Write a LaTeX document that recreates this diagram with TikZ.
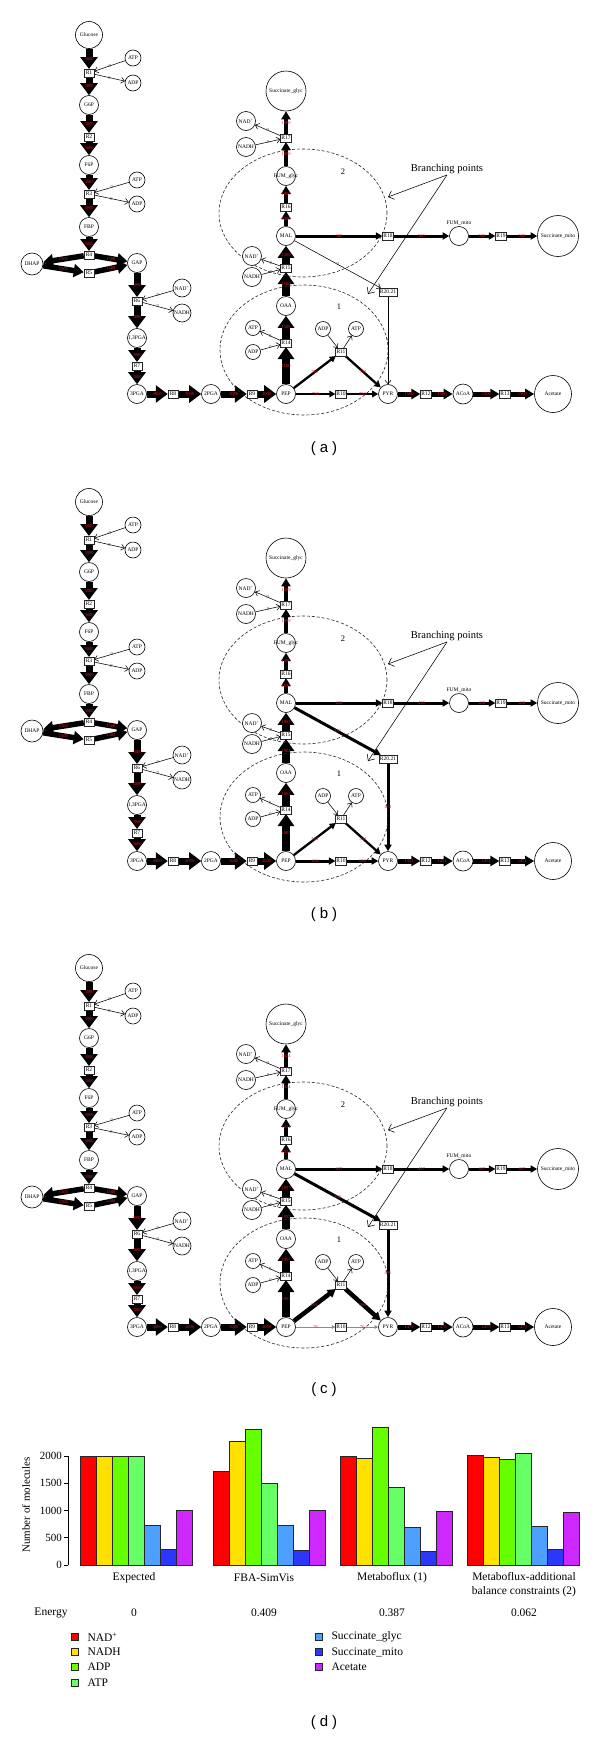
\documentclass[tikz,border=0pt]{standalone}
\usepackage{fontspec}
\setmainfont{Liberation Serif}
\newfontfamily\capfont{Liberation Sans}
\usetikzlibrary{arrows.meta,shapes.geometric}
\pgfdeclarelayer{edgelayer}
\pgfsetlayers{edgelayer,main}
\definecolor{fluxred}{RGB}{230,30,40}
\definecolor{bc0}{RGB}{255,0,0}
\definecolor{bc1}{RGB}{255,225,0}
\definecolor{bc2}{RGB}{102,255,0}
\definecolor{bc3}{RGB}{102,255,102}
\definecolor{bc4}{RGB}{77,160,255}
\definecolor{bc5}{RGB}{45,55,250}
\definecolor{bc6}{RGB}{205,40,255}
\tikzset{
 met/.style={circle, draw=black, line width=0.6pt, fill=white, inner sep=0pt},
 mlab/.style={font=\fontsize{5.5}{6}\selectfont, inner sep=0.5pt},
 rxn/.style={rectangle, draw=black!85, line width=0.5pt, fill=white, inner sep=0.8pt, minimum height=7.5pt, minimum width=10pt, font=\fontsize{5.5}{6}\selectfont},
 fl/.style={font=\fontsize{4.5}{5}\selectfont, text=fluxred, inner sep=0pt},
 zl/.style={font=\fontsize{4.5}{5}\selectfont, text=black!75, inner sep=0pt},
 ell/.style={ellipse, draw=black!85, line width=0.6pt, dash pattern=on 3pt off 2pt},
 numlab/.style={font=\fontsize{8.5}{9}\selectfont},
 bplab/.style={font=\fontsize{10.5}{12}\selectfont, inner sep=1pt},
 eA/.style={line width=7pt, -{Triangle[length=12pt,width=17pt]}},
 eB/.style={line width=5.5pt, -{Triangle[length=10pt,width=13pt]}},
 eV/.style={line width=8pt, -{Triangle[length=12pt,width=16pt]}},
 eM/.style={line width=4.5pt, -{Triangle[length=8pt,width=9pt]}},
 eS/.style={line width=3pt, -{Triangle[length=6.5pt,width=7pt]}},
 eT/.style={line width=2.3pt, -{Triangle[length=6pt,width=6.5pt]}},
 eC/.style={line width=5pt, -{Triangle[length=9pt,width=10pt]}},
 eZ/.style={line width=0.55pt, -{Straight Barb[length=3.5pt,width=6pt]}},
 eG/.style={draw=black!45, line width=1pt, -{Triangle[length=3.5pt,width=3.5pt]}},
 bparrow/.style={line width=0.55pt, -{Straight Barb[length=5pt,width=9pt]}},
 chart/.style={font=\fontsize{11.5}{14}\selectfont},
 captxt/.style={font=\capfont\fontsize{15}{18}\selectfont}
}
\newcommand{\mnode}[5]{\node[met, minimum size=#4pt, label={[mlab]center:{#5}}] (#1) at (#2,#3) {};}
\newcommand{\rnode}[4]{\node[rxn] (#1) at (#2,#3) {#4};}
\newcommand{\netnodes}[2]{%
\begin{scope}[shift={(0,#2)}]
\node[ell, minimum width=168pt, minimum height=128pt] (#1ellB) at (303,213) {};
\node[ell, minimum width=168pt, minimum height=130pt] (#1ellA) at (304,350) {};
\node[numlab] (#1two) at (343,172) {2};
\node[numlab] (#1one) at (339,307) {1};
\node[bplab] (#1bp) at (447,169) {Branching points};
\coordinate (#1tA) at (388,197);
\coordinate (#1tB) at (368,294);
\mnode{#1glc}{89}{35}{27}{Glucose}
\rnode{#1r1}{89}{73}{R1}
\mnode{#1atpA}{133}{58}{16}{ATP}
\mnode{#1adpA}{133}{83}{16}{ADP}
\mnode{#1g6p}{89}{105}{19}{G6P}
\rnode{#1r2}{89}{137}{R2}
\mnode{#1f6p}{89}{165}{19}{F6P}
\rnode{#1r3}{89}{194}{R3}
\mnode{#1atpB}{137}{180}{16}{ATP}
\mnode{#1adpB}{137}{204}{16}{ADP}
\mnode{#1fbp}{89}{227}{19}{FBP}
\rnode{#1r4}{89}{255}{R4}
\rnode{#1r5}{89}{273}{R5}
\mnode{#1dhap}{32}{264}{22}{DHAP}
\mnode{#1gap}{137}{263}{19}{GAP}
\rnode{#1r6}{137}{301}{R6}
\mnode{#1nadA}{182}{288}{18}{NAD\textsuperscript{+}}
\mnode{#1nadhA}{182}{313}{18}{NADH}
\mnode{#1bpg}{137}{338}{19}{1,3PGA}
\rnode{#1r7}{137}{366}{R7}
\mnode{#1pgc}{137}{394}{19}{3PGA}
\rnode{#1r8}{173}{394}{R8}
\mnode{#1pgb}{211}{394}{19}{2PGA}
\rnode{#1r9}{252}{394}{R9}
\mnode{#1pep}{286}{394}{19}{PEP}
\rnode{#1r14}{286}{343}{R14}
\mnode{#1atpC}{253}{328}{15}{ATP}
\mnode{#1adpC}{253}{352}{15}{ADP}
\mnode{#1oaa}{286}{306}{19}{OAA}
\rnode{#1r15}{286}{268}{R15}
\mnode{#1nadB}{252}{256}{19}{NAD\textsuperscript{+}}
\mnode{#1nadhB}{252}{277}{19}{NADH}
\mnode{#1mal}{286}{236}{19}{MAL}
\rnode{#1r16}{286}{207}{R16}
\mnode{#1fumg}{286}{176}{19}{FUM\_glyc}
\rnode{#1r17}{286}{138}{R17}
\mnode{#1nadC}{246}{121}{19}{NAD\textsuperscript{+}}
\mnode{#1nadhC}{246}{147}{19}{NADH}
\mnode{#1sucg}{286}{91}{40}{Succinate\_glyc}
\rnode{#1r18}{388}{236}{R18}
\node[met, minimum size=19pt, label={[mlab]above:{FUM\_mito}}] (#1fumm) at (459,236) {};
\rnode{#1r19}{501}{236}{R19}
\mnode{#1sucm}{558}{236}{41}{Succinate\_mito}
\rnode{#1rtw}{388}{292}{R20.21}
\rnode{#1r10}{341}{394}{R10}
\rnode{#1r11}{341}{352}{R11}
\mnode{#1adpD}{323}{329}{15}{ADP}
\mnode{#1atpD}{356}{329}{15}{ATP}
\mnode{#1pyr}{388}{394}{19}{PYR}
\rnode{#1r12}{426}{394}{R12}
\mnode{#1acoa}{463}{394}{20}{ACoA}
\rnode{#1r13}{505}{394}{R13}
\mnode{#1acet}{553}{394}{37}{Acetate}
\end{scope}}
\newcommand{\netcommon}[1]{%
\draw[eA] (#1glc) -- node[fl]{3000} (#1r1);
\draw[eA] (#1r1) -- node[fl]{3000} (#1g6p);
\draw[eA] (#1g6p) -- node[fl]{3000} (#1r2);
\draw[eA] (#1r2) -- node[fl]{3000} (#1f6p);
\draw[eA] (#1f6p) -- node[fl]{3000} (#1r3);
\draw[eA] (#1r3) -- node[fl]{3000} (#1fbp);
\draw[eA] (#1fbp) -- node[fl]{3000} (#1r4);
\draw[eB] (#1r4) -- node[fl]{1500} (#1dhap);
\draw[eB] (#1r4) -- node[fl]{1500} (#1gap);
\draw[eB] (#1dhap) -- node[fl]{1500} (#1r5);
\draw[eB] (#1r5) -- node[fl]{1500} (#1gap);
\draw[eA] (#1gap) -- node[fl]{3000} (#1r6);
\draw[eA] (#1r6) -- node[fl]{3000} (#1bpg);
\draw[eA] (#1bpg) -- node[fl]{3000} (#1r7);
\draw[eA] (#1r7) -- node[fl]{3000} (#1pgc);
\draw[eA] (#1pgc) -- node[fl]{3000} (#1r8);
\draw[eA] (#1r8) -- node[fl]{3000} (#1pgb);
\draw[eA] (#1pgb) -- node[fl]{3000} (#1r9);
\draw[eA] (#1r9) -- node[fl]{3000} (#1pep);
\draw[eZ] (#1atpA) -- node[zl]{0} (#1r1);
\draw[eZ] (#1r1) -- node[zl]{0} (#1adpA);
\draw[eZ] (#1atpB) -- node[zl]{0} (#1r3);
\draw[eZ] (#1r3) -- node[zl]{0} (#1adpB);
\draw[eZ] (#1nadA) -- node[zl]{0} (#1r6);
\draw[eZ] (#1r6) -- node[zl]{0} (#1nadhA);
\draw[eZ] (#1r14) -- node[zl]{0} (#1atpC);
\draw[eZ] (#1adpC) -- node[zl]{0} (#1r14);
\draw[eZ] (#1r15) -- node[zl]{0} (#1nadB);
\draw[eZ] (#1nadhB) -- node[zl]{0} (#1r15);
\draw[eZ] (#1r17) -- node[zl]{0} (#1nadC);
\draw[eZ] (#1nadhC) -- node[zl]{0} (#1r17);
\draw[eZ] (#1adpD) -- (#1r11);
\draw[eZ] (#1r11) -- (#1atpD);
\draw[bparrow] (#1bp.south) -- (#1tA);
\draw[bparrow] (#1bp.south) -- (#1tB);}
\newcommand{\netvar}[5]{%
\draw[eV] (#1pep) -- node[fl]{#2} (#1r14);
\draw[eV] (#1r14) -- node[fl]{#2} (#1oaa);
\draw[eV] (#1oaa) -- node[fl]{#2} (#1r15);
\draw[eV] (#1r15) -- node[fl]{#2} (#1mal);
\draw[eM] (#1mal) -- node[fl]{#3} (#1r16);
\draw[eM] (#1r16) -- node[fl]{#3} (#1fumg);
\draw[eM] (#1fumg) -- node[fl]{#3} (#1r17);
\draw[eM] (#1r17) -- node[fl]{#3} (#1sucg);
\draw[eS] (#1mal) -- node[fl]{#4} (#1r18);
\draw[eS] (#1r18) -- node[fl]{#4} (#1fumm);
\draw[eS] (#1fumm) -- node[fl]{#4} (#1r19);
\draw[eS] (#1r19) -- node[fl]{#4} (#1sucm);
\draw[eC] (#1pyr) -- node[fl]{#5} (#1r12);
\draw[eC] (#1r12) -- node[fl]{#5} (#1acoa);
\draw[eC] (#1acoa) -- node[fl]{#5} (#1r13);
\draw[eC] (#1r13) -- node[fl]{#5} (#1acet);}
\newcommand{\bargroup}[8]{%
\foreach \bval [count=\bidx from 0] in {#2,#3,#4,#5,#6,#7,#8} {%
\filldraw[fill=bc\bidx, draw=black!85, line width=0.6pt] ({#1+16*\bidx},1565) rectangle ({#1+16*\bidx+16},{1565-0.0545*\bval});}}
\begin{document}
\begin{tikzpicture}[x=1pt,y=-1pt]
\useasboundingbox (0,0) rectangle (600,1740);
\begin{pgfonlayer}{edgelayer}
\fill[white] (0,0) rectangle (600,1740);
\end{pgfonlayer}
% ---------- panel (a)
\netnodes{a}{0}
\begin{pgfonlayer}{edgelayer}
\netcommon{a}
\netvar{a}{1500}{1000}{500}{1500}
\draw[eZ] (amal) -- node[zl]{0} (artw);
\draw[eZ] (artw) -- node[zl]{0} (apyr);
\draw[eT] (apep) -- node[fl]{750} (ar11);
\draw[eT] (ar11) -- node[fl]{750} (apyr);
\draw[eT] (apep) -- node[fl]{750} (ar10);
\draw[eT] (ar10) -- node[fl]{750} (apyr);
\end{pgfonlayer}
\node[captxt] (capa) at (324,449) {(\hspace{4pt}a\hspace{4pt})};
% ---------- panel (b)
\netnodes{b}{467}
\begin{pgfonlayer}{edgelayer}
\netcommon{b}
\netvar{b}{1962}{1099}{430}{1451}
\draw[eS] (bmal) -- node[fl]{433} (brtw);
\draw[eS] (brtw) -- node[fl]{433} (bpyr);
\draw[eT] (bpep) -- node[fl]{344} (br11);
\draw[eT] (br11) -- node[fl]{344} (bpyr);
\draw[eS] (bpep) -- node[fl]{694} (br10);
\draw[eS] (br10) -- node[fl]{694} (bpyr);
\end{pgfonlayer}
\node[captxt] (capb) at (324,915) {(\hspace{4pt}b\hspace{4pt})};
% ---------- panel (c)
\netnodes{c}{933}
\begin{pgfonlayer}{edgelayer}
\netcommon{c}
\netvar{c}{1957}{1024}{437}{1479}
\draw[eS] (cmal) -- node[fl]{496} (crtw);
\draw[eS] (crtw) -- node[fl]{496} (cpyr);
\draw[eM] (cpep) -- node[fl]{966} (cr11);
\draw[eM] (cr11) -- node[fl]{966} (cpyr);
\draw[eG] (cpep) -- node[fl]{76} (cr10);
\draw[eG] (cr10) -- node[fl]{76} (cpyr);
\end{pgfonlayer}
\node[captxt] (capc) at (324,1390) {(\hspace{4pt}c\hspace{4pt})};
% ---------- panel (d): bar chart
\bargroup{80}{2000}{2000}{2000}{2000}{722}{287}{1000}
\bargroup{213}{1725}{2275}{2495}{1492}{722}{275}{1000}
\bargroup{340}{1994}{1957}{2526}{1431}{685}{251}{979}
\bargroup{467}{2006}{1976}{1939}{2055}{710}{287}{966}
\draw[line width=0.6pt] (68,1456) -- (68,1565);
\foreach \tv in {0,500,1000,1500,2000} {%
 \draw[line width=0.6pt] (64,{1565-0.0545*\tv}) -- (68,{1565-0.0545*\tv});
 \node[anchor=east, font=\fontsize{11}{13}\selectfont, inner sep=0pt] (tk\tv) at (62,{1565-0.0545*\tv}) {\tv};}
\node[rotate=90, font=\fontsize{11}{13}\selectfont] (ytitle) at (26,1505) {Number of molecules};
\node[chart] (gl1) at (134,1578) {Expected};
\node[chart] (gl2) at (264,1578) {FBA-SimVis};
\node[chart] (gl3) at (392,1578) {Metaboflux (1)};
\node[chart, align=center] (gl4) at (524,1585) {Metaboflux-additional\\balance constraints (2)};
\node[chart] (en0) at (51,1613) {Energy};
\node[chart] (en1) at (134,1613) {0};
\node[chart] (en2) at (264,1613) {0.409};
\node[chart] (en3) at (392,1613) {0.387};
\node[chart] (en4) at (524,1613) {0.062};
\node[fill=bc0, draw=black!85, line width=0.6pt, minimum size=7pt, inner sep=0pt] (lg0) at (75,1637) {};
\node[fill=bc1, draw=black!85, line width=0.6pt, minimum size=7pt, inner sep=0pt] (lg1) at (75,1652) {};
\node[fill=bc2, draw=black!85, line width=0.6pt, minimum size=7pt, inner sep=0pt] (lg2) at (75,1667) {};
\node[fill=bc3, draw=black!85, line width=0.6pt, minimum size=7pt, inner sep=0pt] (lg3) at (75,1683) {};
\node[fill=bc4, draw=black!85, line width=0.6pt, minimum size=7pt, inner sep=0pt] (lg4) at (319,1637) {};
\node[fill=bc5, draw=black!85, line width=0.6pt, minimum size=7pt, inner sep=0pt] (lg5) at (319,1652) {};
\node[fill=bc6, draw=black!85, line width=0.6pt, minimum size=7pt, inner sep=0pt] (lg6) at (319,1667) {};
\node[chart, anchor=west] (lt0) at (84,1637) {NAD\textsuperscript{+}};
\node[chart, anchor=west] (lt1) at (84,1652) {NADH};
\node[chart, anchor=west] (lt2) at (84,1667) {ADP};
\node[chart, anchor=west] (lt3) at (84,1683) {ATP};
\node[chart, anchor=west] (lt4) at (328,1637) {Succinate\_glyc};
\node[chart, anchor=west] (lt5) at (328,1652) {Succinate\_mito};
\node[chart, anchor=west] (lt6) at (328,1667) {Acetate};
\node[captxt] (capd) at (324,1723) {(\hspace{4pt}d\hspace{4pt})};
\end{tikzpicture}
\end{document}
